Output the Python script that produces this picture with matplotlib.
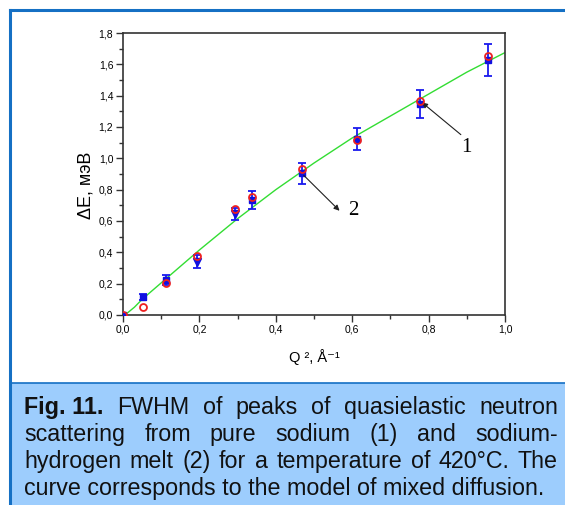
import matplotlib
matplotlib.use("Agg")
import matplotlib.pyplot as plt
import numpy as np
from matplotlib.patches import Rectangle
from matplotlib.lines import Line2D
from matplotlib.ticker import MultipleLocator, FuncFormatter

# data
q2 = [0.0, 0.0515, 0.1126, 0.193, 0.293, 0.339, 0.468, 0.612, 0.777, 0.956]
de_na = [0.0, 0.053, 0.205, 0.375, 0.676, 0.753, 0.93, 1.12, 1.368, 1.655]      # (1) red circles
de_nah = [0.0, 0.113, 0.223, 0.34, 0.645, 0.734, 0.904, 1.126, 1.346, 1.627]    # (2) blue
de_nah_err = [0.0, 0.02, 0.03, 0.043, 0.04, 0.06, 0.066, 0.07, 0.09, 0.10]

curve_x = [0, 0.01, 0.03, 0.05, 0.1, 0.15, 0.2, 0.3, 0.4, 0.5, 0.6, 0.7, 0.8, 0.9, 1.0]
curve_y = [0, 0.01, 0.05, 0.1, 0.205, 0.31, 0.415, 0.615, 0.80, 0.97, 1.13, 1.27, 1.41, 1.55, 1.675]

caption = [
    [("Fig. 11.", "bold"), "FWHM", "of", "peaks", "of", "quasielastic", "neutron"],
    ["scattering", "from", "pure", "sodium", "(1)", "and", "sodium-"],
    ["hydrogen", "melt", "(2)", "for", "a", "temperature", "of", "420°C.", "The"],
    ["curve corresponds to the model of mixed diffusion."],
]

W, H = 565, 505
fig = plt.figure(figsize=(W / 100, H / 100), dpi=100)
fig.patch.set_facecolor("white")

def fx(px):
    return px / W

def fy(py):
    return 1 - py / H

blue = "#1570c4"
# caption box and outer frame
fig.add_artist(Rectangle((fx(10), 0), 1 - fx(10), fy(383), transform=fig.transFigure,
                         facecolor="#9dcdfd", edgecolor="none", zorder=0))
fig.add_artist(Line2D([fx(10), 1], [fy(383), fy(383)], transform=fig.transFigure, color=blue, lw=1.2))
fig.add_artist(Line2D([fx(10), fx(10)], [0, fy(10)], transform=fig.transFigure, color=blue, lw=2.2))
fig.add_artist(Line2D([fx(10), 1], [fy(10), fy(10)], transform=fig.transFigure, color=blue, lw=2.2))

ax = fig.add_axes([fx(123), fy(315), fx(505) - fx(123), fy(33) - fy(315)])
ax.plot(curve_x, curve_y, color="#33dd33", lw=1.0, zorder=1)
ax.errorbar(q2, de_nah, yerr=de_nah_err, fmt="none", ecolor="#1a1aee", elinewidth=1.3,
            capsize=2.6, capthick=1.3, zorder=2)
tri_idx = [3, 4]
sq_idx = [i for i in range(len(q2)) if i not in tri_idx]
ax.plot([q2[i] for i in sq_idx], [de_nah[i] for i in sq_idx], "s", color="#1010e0", ms=5, zorder=3)
ax.plot([q2[i] for i in tri_idx], [de_nah[i] for i in tri_idx], "v", color="#1010e0", ms=6, zorder=3)
ax.plot(q2, de_na, "o", mfc="none", mec="#ee2020", ms=5, mew=1.3, zorder=4)

ax.annotate("", xy=(q2[8], de_na[8]), xytext=(0.89, 1.14),
            arrowprops=dict(arrowstyle="-|>", color="#202020", lw=0.8, mutation_scale=8))
ax.text(0.90, 1.066, "1", fontsize=15, family="Liberation Serif", ha="center", va="center")
ax.annotate("", xy=(0.572, 0.653), xytext=(q2[6], de_nah[6]),
            arrowprops=dict(arrowstyle="-|>", color="#202020", lw=0.8, mutation_scale=8))
ax.text(0.603, 0.67, "2", fontsize=15, family="Liberation Serif", ha="center", va="center")

ax.set_xlim(0, 1.0)
ax.set_ylim(0, 1.8)
ax.xaxis.set_major_locator(MultipleLocator(0.2))
ax.xaxis.set_minor_locator(MultipleLocator(0.1))
ax.yaxis.set_major_locator(MultipleLocator(0.2))
ax.yaxis.set_minor_locator(MultipleLocator(0.1))
comma = FuncFormatter(lambda v, p: ("%.1f" % v).replace(".", ","))
ax.xaxis.set_major_formatter(comma)
ax.yaxis.set_major_formatter(comma)
ax.tick_params(which="major", length=5, width=1.0, color="#333333", labelsize=7.5, pad=2)
ax.tick_params(which="minor", length=3, width=1.0, color="#333333")
for lab in ax.get_xticklabels() + ax.get_yticklabels():
    lab.set_family("Liberation Sans")
for s in ax.spines.values():
    s.set_color("#333333")
    s.set_linewidth(1.2)

ax.text(-0.097, 0.461, "ΔE, мэВ", transform=ax.transAxes, rotation=90, ha="center", va="center",
        fontsize=13, family=["Liberation Sans", "DejaVu Sans"])
ax.text(0.5, -0.149, "Q ², Å⁻¹", transform=ax.transAxes, ha="center", va="center",
        fontsize=10.5, family=["Liberation Sans", "DejaVu Sans"])

# caption, justified like the reference
renderer = fig.canvas.get_renderer()
x_left, x_right = 24, 558
probe = fig.text(0, 0, caption[3][0], fontsize=10, family="Liberation Sans")
pw = probe.get_window_extent(renderer).width
probe.remove()
cap_fs = 10 * 521 / pw
baselines = [414, 441, 468, 495]
for line, base in zip(caption, baselines):
    texts = []
    for w in line:
        if isinstance(w, tuple):
            t = fig.text(0, fy(base), w[0], fontsize=cap_fs, weight=w[1], family="Liberation Sans",
                         va="baseline", color="#111111")
        else:
            t = fig.text(0, fy(base), w, fontsize=cap_fs, family="Liberation Sans",
                         va="baseline", color="#111111")
        texts.append(t)
    widths = [t.get_window_extent(renderer).width for t in texts]
    if len(texts) > 1:
        gap = (x_right - x_left - sum(widths)) / (len(texts) - 1)
    else:
        gap = 0
    x = x_left
    for t, wd in zip(texts, widths):
        t.set_x(fx(x))
        x += wd + gap

fig.savefig("out.png", dpi=100)
